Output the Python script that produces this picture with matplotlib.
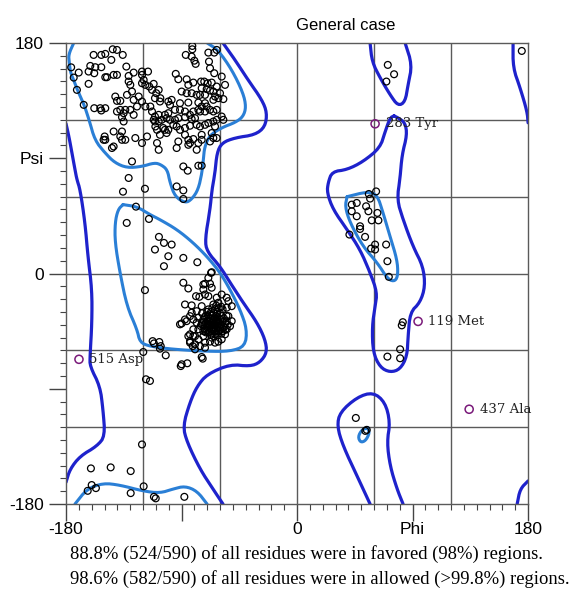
import numpy as np
import matplotlib.pyplot as plt

# residue (phi, psi) pairs, grouped by region
beta_phi = [-176, -158.5, -152.5, -149.4, -143.6, -140.3, -135.8, -144.7, -161.1, -157.2, -152.5, -162.4, -158,
            -170.1, -174, -149.4, -148.1, -142.9, -140.3, -133, -127.3, -131.2, -120.8, -116.1, -120.8, -162.4,
            -171.5, -166.2, -141.6, -140.3, -137.7, -132.5, -127.3, -128.6, -129.9, -131.2, -120.8, -119.5, -118.2,
            -115.1, -111.7, -113, -109.7, -107.8, -106.5, -123.4, -120.8, -124.7, -118.2, -114.3, -158, -153.3,
            -149.4, -152.5, -140.3, -137.7, -135.1, -133.8, -129.9, -127.3, -136.4, -135.1, -113, -111.7, -110.4,
            -109.1, -107.8, -107.8, -142.9, -136.4, -137.7, -136.4, -133.8, -126, -116.9, -120.8, -109.1, -149.9,
            -150.7, -149.4, -144.2, -142.9, -107.8, -128.6, -131.2,
            -81.6, -81.6, -86.7, -82.1, -80, -79, -69.1, -68.6, -64.5, -62.6, -67.8, -64.5, -58.7, -56.1, -94.5,
            -92.5, -86, -84.7, -80.8, -74.8, -72.3, -69.6, -66.5, -62.6, -74.3, -70.4, -67.8, -65.2, -63.9, -60,
            -57.4, -61.3, -65.2, -89.9, -86, -82.1, -78.2, -75.6, -71.7, -110.7, -106.8, -100.3, -97.7, -99, -91.2,
            -84.7, -76.9, -71.7, -70.4, -74.3, -67.8, -65.2, -62.6, -76.9, -75.6, -71.7, -80.8, -87.3, -91.2, -95.1,
            -100.3, -102.9, -110.7, -110.7, -105.5, -101.6, -99, -95.1, -92.5, -87.3, -83.4, -82.1, -79.5, -96.4,
            -93.8, -91.2, -87.3, -83.4, -78.2, -75.6, -71.7, -69.1, -65.2, -62.6, -58.7, -57.4, -63.9, -66.5, -62.6,
            -106.8, -102.9, -101.6, -87.3, -84.7, -80.8, -74.3, -74.3, -76.9, -84.7, -83.4, -92.5, -93.8, -78.2,
            -67.8, -65.2, -88.6, -85.2, -76.9, -74.3, -93.8, -88.6, -88.6, -100.3, -104.2,
            -135.6, -118.5, -125.5]
beta_psi = [161, 170.7, 170.7, 171.5, 175.1, 174.6, 170.7, 166.8, 162.1, 161.1, 161.1, 157.7, 156.4, 156.9, 153,
            153.3, 153.3, 155.1, 155.1, 161.6, 156.9, 154.3, 157.7, 157.7, 155.1, 148.1, 143.4, 131.7, 138.2, 134.8,
            134.8, 139.5, 135.6, 142.1, 147.3, 149.9, 148.6, 151.2, 147.3, 146, 148.1, 143.4, 140.8, 143.4, 136.9,
            138.2, 134.3, 130.4, 130.4, 130.4, 129.1, 129.1, 129.1, 127.3, 126.5, 127.8, 125.2, 127.8, 127.8, 123.9,
            122.1, 118.7, 126.5, 120, 114.8, 112.2, 123.9, 118.7, 110.9, 110.9, 107, 104.4, 104.4, 105.8, 107,
            101.9, 101.9, 107, 104.4, 104.4, 98, 99.2, 96.6, 87.5, 74.6,
            177.7, 175.1, 170.7, 169.4, 166.2, 163.7, 172.5, 165.5, 172.5, 174.6, 160.3, 156.4, 153.8, 147.3, 155.9,
            151.7, 151.7, 147.3, 149.1, 149.9, 149.9, 148.6, 149.1, 146, 144.7, 144, 142.9, 142.1, 138.2, 140.8,
            136.2, 136.9, 135.6, 142.1, 140.8, 140.8, 139.5, 139.5, 139.5, 136.9, 134.3, 134.3, 135.6, 131.7, 133,
            133.5, 133.5, 133, 130.4, 130.4, 127.8, 126.5, 127.8, 127.8, 126.5, 126.5, 126.5, 126.5, 127.8, 127.8,
            125.2, 123.9, 122.6, 118.7, 120, 121.3, 120, 120, 121.3, 122.1, 123.9, 120.6, 121.3, 116.1, 114.8,
            112.2, 113.6, 115.4, 116.1, 114.8, 116.1, 117.5, 118.7, 120, 122.6, 120, 114.8, 109.7, 105.8, 108.3,
            112.2, 109.7, 108.3, 104.4, 105, 108.3, 104.4, 101.9, 100.5, 101.9, 103.1, 98, 96.6, 103.1, 105.8,
            83.6, 80.3, 84.2, 84.2, 68, 64.9, 58.2, 112.2, 113.6,
            63.9, 66.2, 52.2]

alpha_phi = [-132.7, -115.4, -107.6, -103.7, -97.7, -110.7, -100.3, -103.7, -88.6, -77.7, -118.5, -88.6, -84.7,
             -73, -66.5, -69.1, -78.7, -76.1, -87.3, -82.1, -89.9, -86, -83.4, -78.2, -83.4, -79.5, -83.4, -81.3,
             -79.5, -112.5, -111.5, -107.3, -106.2, -106.8, -119.8, -102.3, -90.6, -85.5, -73.5,
             -71.7, -67, -67.8, -66.5, -73, -71.7, -69.1, -62.6, -58.7, -54.8, -53.5, -50.9, -54.8, -61.3, -65.2,
             -74.3, -82.1, -78.2, -87.3, -91.2, -80.8, -76.9, -53.5, -50.9, -52.2, -54.8, -56.1, -58.7, -61.3,
             -63.9, -67.8, -71.7, -76.9, -80.8, -84.7, -83.4, -79.5, -75.6, -71.7, -74.3, -89.9, -63.9, -61.3,
             -57.4, -62.6, -54.8, -71.7, -76.9, -80.8, -74.3, -73, -66.5]
alpha_psi = [39.5, 42.6, 28.6, 23.9, 22.6, 18.7, 13.5, 5.7, 12.2, 8.8, -13, -7.2, -11.7, -8.6, 1, -3.4, -17.7,
             -18.2, -24.2, -24.9, -39, -37.2, -33.3, -38.4, -47.5, -48.9, -54, -56.7, -59.2, -52.8, -54.6, -53.5,
             -56.7, -58.7, -61.3, -63.9, -72.3, -70.1, -66.5,
             -8, 0.5, -8, -11.1, -12.5, -16.4, -17.7, -18.9, -16.4, -18.9, -21.6, -25.5, -26.7, -22.8, -24.2,
             -25.5, -30.6, -29.4, -35.9, -39.7, -35.9, -34.5, -33.3, -37.2, -41.1, -43.6, -47.5, -51.4, -53.2,
             -54, -53.2, -54, -51.4, -48.9, -48.9, -52.8, -55.3, -56.7, -57.9, -65.2, -70.9, -47.5, -45, -41.1,
             -37.2, -37.2, -45, -43.6, -43.6, -39.7, -48.9, -50.1]

# dense helix core
core_phi = [-66, -64, -62, -68, -70, -65, -60, -63, -67, -71, -72, -69, -61, -58, -59, -64, -68, -66, -62, -65,
            -63, -67, -60, -69, -64, -71, -57, -62, -66, -70, -66, -73, -61, -68, -64, -58, -63, -67, -72, -65,
            -60, -69, -74, -62, -65, -67, -63, -70, -61, -59, -71, -66, -57, -68, -64, -62, -66, -69, -60, -72,
            -65, -75, -56, -63, -70, -73, -58, -67, -61, -74, -55, -56, -59, -54]
core_psi = [-38, -40, -36, -41, -37, -44, -40, -33, -30, -33, -43, -46, -45, -38, -33, -28, -35, -42, -41, -36,
            -38, -39, -36, -40, -45, -39, -42, -30, -33, -44, -47, -36, -39, -32, -42, -45, -47, -44, -40, -31,
            -43, -28, -31, -34, -40, -36, -43, -42, -42, -47, -46, -27, -35, -38, -35, -38, -44, -34, -31, -34,
            -49, -41, -39, -25, -30, -45, -28, -48, -27, -38, -33, -44, -26, -40]

right_phi = [70.7, 75.6, 69.6, 175.1, 61.6, 55.9, 56.9, 46.5, 42.6, 53.8, 42.6, 55.6, 62.6, 46.5, 58.2, 63.4, 49.1,
             49.1, 40.8, 53, 60.8, 69.4, 57.7, 60.8, 70.4, 71.5, 82.4, 81.6, 80.3, 70.4, 80.3, 45.8, 54.3, 53.2]
right_psi = [162.9, 155.6, 149.9, 173.8, 64.1, 62.1, 58.5, 55.1, 53.8, 52.5, 48.6, 48.6, 47.3, 44.7, 41.5, 41.5,
             36.9, 34.8, 30.4, 28.6, 22.6, 22.6, 19.5, 18.7, 9.6, -2.6, -38, -40.5, -59.2, -64.9, -66.2, -112.8,
             -122.1, -122.9]

low_phi = [-117.7, -114.6, -120.8, -160.6, -145.2, -129.6, -160, -163.1, -156.7, -129.6, -119.5, -111.5, -110.1,
           -87.8]
low_psi = [-82.6, -83.9, -133.5, -152.2, -151.4, -154.3, -165.2, -169.7, -167.6, -171.5, -166.2, -174.4, -175.6,
           -174.4]

# outliers
out_phi = [60.8, 94.3, -169.9, 134.1]
out_psi = [116.9, -37.4, -67, -106]
out_names = ['283 Tyr', '119 Met', '515 Asp', '437 Ala']

# favoured (98%) contours
fav_beta = ([-174, -178, -177.5, -176.5, -174, -171, -166, -162, -157.5, -149.5, -142, -132.5, -121, -111, -106,
             -101, -99, -95, -87, -82, -77, -74, -73, -72, -68, -58.5, -48, -42, -39.7, -42, -50.7, -61.6, -70],
            [180, 171, 165, 157, 151, 143, 132, 120, 104, 94, 86.5, 82.5, 83.5, 86.5, 85, 81, 71, 60, 55, 58, 65.5,
             79, 89, 99, 108, 114, 118, 122.5, 130, 141, 159, 174.6, 180])
fav_alpha = ([-135.6, -124.7, -114.6, -106.8, -93.5, -81.1, -70.1, -60, -52.2, -44.4, -39, -40.5, -52.2, -70.1,
              -96.6, -114.6, -122.4, -124.7, -132.5, -138, -141.8, -141.8, -139.5, -135.6],
             [53.8, 52.2, 46, 42.1, 34.3, 24.2, 13.2, 0.8, -12.5, -28.1, -43.6, -56.9, -60.8, -60.8, -59.2, -56.9,
              -53.8, -43.6, -25.7, 0.8, 24.2, 39.7, 49.9, 53.8])
fav_bottom = ([-173, -163.7, -151.2, -138, -120, -106.8, -96.6, -87.3, -77.9, -70.1],
              [-180, -168.3, -163.7, -165.2, -169.9, -171.5, -168.3, -166, -169.9, -180])
fav_left = ([39, 54.6, 62.4, 67, 72.5, 77.9, 78.7, 76.4, 70.9, 62.4, 51.4, 41.3, 37.4, 39],
            [60, 63.9, 61.6, 47.5, 28.8, 10.9, -0.8, -6.2, -4.7, 8.6, 21, 39.7, 52.2, 60])
fav_small = ([55, 56.5, 53.5, 49.5, 47.5, 50.5, 55],
             [-120.5, -124.5, -130.5, -132, -127.5, -122, -120.5])

# allowed (99.8%) contours
allow_right = ([-57.7, -48.3, -38.2, -27.3, -23.4, -24.9, -32.7, -48.3, -58.5, -62.4, -63.9, -66.3, -67.8, -71.7,
                -70.1, -60, -52.2, -42.1, -31.2, -24.9, -23.4, -28.8, -36.6, -52.2, -70.1, -77.9, -83.4, -88.9,
                -85.7, -75.6, -65.5, -57.7],
               [180, 166.8, 151.2, 135.6, 125.5, 114.6, 108.3, 106, 102.1, 94.3, 78.7, 65.5, 49.9, 26.5, 17.1, 5.5,
                -7, -22.6, -38.2, -51.4, -61.6, -69.4, -72.5, -70.9, -78.7, -88.1, -100.5, -119.2, -131.7, -152.8,
                -168.3, -180])
allow_left = ([-180, -177.7, -175.4, -173, -171.5, -169, -165.2, -162.9, -159.8, -159.8, -161.3, -161.3, -153.5,
               -151.2, -149.6, -155.9, -169, -176.9, -180],
              [117, 106.8, 94.3, 81.1, 73.3, 65.5, 39.7, 13.2, -12.5, -38.2, -64.7, -72.5, -88.1, -106, -127,
               -134.8, -142.6, -152.8, -163])
allow_edge_top = ([168.3, 168.3, 173.8, 179.3, 180], [180, 160.6, 145, 126.3, 117.7])
allow_edge_bot = ([171.5, 173.8, 180], [-180, -168.3, -162])
allow_gly_top = ([56.9, 58.5, 64.7, 72.5, 78.7, 84.2, 86.5, 89.6, 84.2],
                 [180, 165.2, 152.8, 139.5, 130.9, 134, 147.3, 163, 180])
allow_gly_bot = ([56.9, 46.8, 35.9, 31.2, 33.5, 46.8, 59.2, 68.6, 72.5, 70.1, 72.5, 77.9, 82.6],
                 [-180, -158.2, -134.8, -119.2, -108.3, -96.6, -92.7, -100.5, -116.1, -131.7, -150.4, -168.3, -180])
allow_lh = ([75.6, 78.7, 84.2, 85.7, 81.8, 80.3, 77.9, 82.6, 90.4, 98.2, 99.8, 95.9, 88.1, 86.5, 85.7, 80.3, 72.5,
             64.7, 59.2, 58.5, 60.8, 62.4, 56.9, 49.1, 39, 28.1, 23.4, 24.2, 27.3, 39, 51.4, 64.7, 68.6, 72.5, 75.6],
            [123.1, 121.6, 117.7, 108.3, 92.7, 74.8, 57.7, 42.1, 21, 5.5, -10.1, -22.6, -30.4, -49.1, -64.7, -74.8,
             -77.2, -73.3, -61.6, -41.3, -25.7, -14.8, 0.8, 18.7, 34.3, 49.9, 63.1, 70.9, 79.5, 81.1, 87.3, 98.2,
             110.7, 121.6, 123.1])

fav_color = '#2a7fd6'
allow_color = '#1e22cc'


def chaikin(xs, ys, n=2):
    # corner cutting so the traced outlines render as smooth curves
    p = np.column_stack([xs, ys]).astype(float)
    for _ in range(n):
        q = 0.75 * p[:-1] + 0.25 * p[1:]
        r = 0.25 * p[:-1] + 0.75 * p[1:]
        mid = np.empty((2 * len(q), 2))
        mid[0::2] = q
        mid[1::2] = r
        p = np.vstack([p[:1], mid, p[-1:]])
    return p[:, 0], p[:, 1]


fig = plt.figure(figsize=(5.74, 5.99), dpi=100)
ax = fig.add_axes([0.115, 0.1586, 0.805, 0.7696])

for c in [fav_beta, fav_alpha, fav_bottom, fav_left, fav_small]:
    sx, sy = chaikin(*c)
    ax.plot(sx, sy, color=fav_color, lw=2.2, solid_capstyle='round', solid_joinstyle='round', zorder=2)
for c in [allow_right, allow_left, allow_edge_top, allow_edge_bot, allow_gly_top, allow_gly_bot, allow_lh]:
    sx, sy = chaikin(*c)
    ax.plot(sx, sy, color=allow_color, lw=2.3, solid_capstyle='round', solid_joinstyle='round', zorder=2)

all_phi = beta_phi + alpha_phi + core_phi + right_phi + low_phi
all_psi = beta_psi + alpha_psi + core_psi + right_psi + low_psi
ax.scatter(all_phi, all_psi, s=24, facecolors='none', edgecolors='black', linewidths=0.9, zorder=3)

ax.scatter(out_phi, out_psi, s=34, facecolors='none', edgecolors='#7a1a7a', linewidths=1.1, zorder=3)
for x, y, name in zip(out_phi, out_psi, out_names):
    ax.annotate(name, (x, y), xytext=(7.5, 0), textcoords='offset points', va='center', ha='left',
                fontsize=9.5, family='DejaVu Serif', color='#222222')

ax.set_xlim(-180, 180)
ax.set_ylim(-180, 180)
grid = np.arange(-120, 121, 60)
for g in grid:
    ax.axvline(g, color='#5a5a5a', lw=1.0, zorder=1)
    ax.axhline(g, color='#5a5a5a', lw=1.0, zorder=1)

ax.set_xticks([-180, -90, 0, 90, 180])
ax.set_xticklabels(['-180', '', '0', 'Phi', '180'])
ax.set_yticks([-180, -90, 0, 90, 180])
ax.set_yticklabels(['-180', '', '0', 'Psi', '180'])
ax.set_xticks(np.arange(-180, 181, 10), minor=True)
ax.set_yticks(np.arange(-180, 181, 10), minor=True)
ax.tick_params(which='major', length=12, width=1.0, color='#444444', labelsize=12.5, direction='out')
ax.tick_params(axis='x', which='major', pad=1)
ax.tick_params(axis='y', which='major', pad=4)
ax.tick_params(which='minor', length=4.5, width=0.8, color='#444444', direction='out')
for lab in ax.get_xticklabels() + ax.get_yticklabels():
    lab.set_family('Liberation Sans')
for s in ax.spines.values():
    s.set_color('#5a5a5a')
    s.set_linewidth(1.0)

fig.text(0.603, 0.957, 'General case', ha='center', va='center', fontsize=12, family='Liberation Sans')
fig.text(0.122, 0.075, '88.8% (524/590) of all residues were in favored (98%) regions.',
         ha='left', va='center', fontsize=13.4, family='Liberation Serif')
fig.text(0.122, 0.034, '98.6% (582/590) of all residues were in allowed (>99.8%) regions.',
         ha='left', va='center', fontsize=13.4, family='Liberation Serif')

fig.savefig('out.png', dpi=100)
